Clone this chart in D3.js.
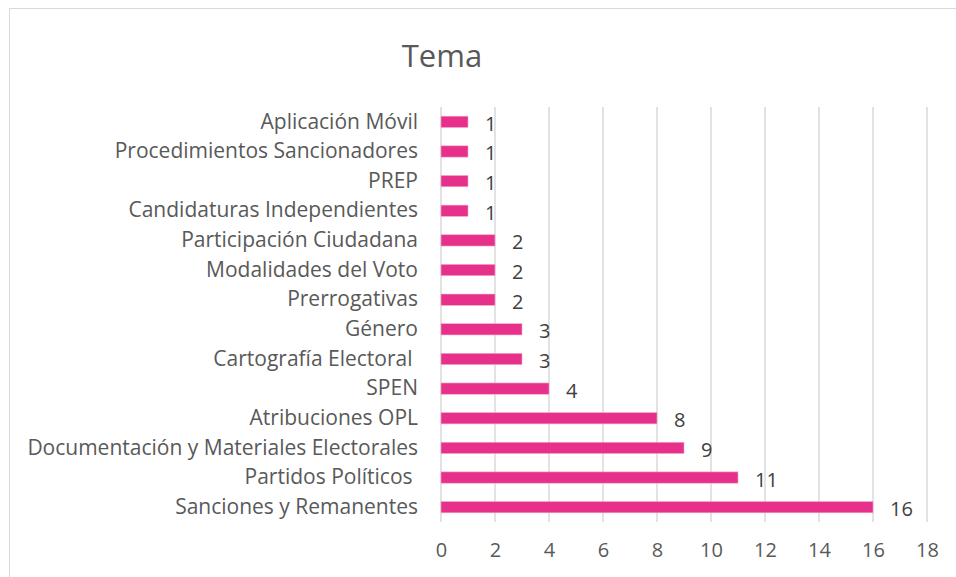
<!DOCTYPE html>
<html>
<head>
<meta charset="utf-8">
<script src="https://cdn.jsdelivr.net/npm/d3@7"></script>
<style>
  body { margin: 0; background: #fff; }
  text { font-family: "Open Sans", sans-serif; white-space: pre; }
</style>
</head>
<body>
<div id="chart"></div>
<script>
// Chart data
const temas = [
    "Aplicación Móvil",
    "Procedimientos Sancionadores",
    "PREP",
    "Candidaturas Independientes",
    "Participación Ciudadana",
    "Modalidades del Voto",
    "Prerrogativas",
    "Género",
    "Cartografía Electoral ",
    "SPEN",
    "Atribuciones OPL",
    "Documentación y Materiales Electorales",
    "Partidos Políticos ",
    "Sanciones y Remanentes"
];
const cantidades = [1, 1, 1, 1, 2, 2, 2, 3, 3, 4, 8, 9, 11, 16];
const xTicks = [0, 2, 4, 6, 8, 10, 12, 14, 16, 18];
const titulo = "Tema";

// SVG dimensions
const w = 956;
const h = 577;
const plotLeft = 441;
const plotRight = 927;
const plotTop = 107;
const plotBottom = 522;

const svg = d3.select("#chart")
    .append("svg")
    .attr("width", w)
    .attr("height", h);

// Chart border
svg.append("rect")
    .attr("x", 9.5)
    .attr("y", 8.5)
    .attr("width", 960)
    .attr("height", 580)
    .attr("fill", "none")
    .attr("stroke", "#d9d9d9")
    .attr("stroke-width", 1);

// Scales
const xScale = d3.scaleLinear()
    .domain([0, 18])
    .range([plotLeft, plotRight]);

const yScale = d3.scaleBand()
    .domain(temas)
    .range([plotTop, plotBottom])
    .paddingInner(0.62)
    .paddingOuter(0.31);

// Gridlines
svg.selectAll("line.grid")
    .data(xTicks)
    .enter()
    .append("line")
    .attr("class", "grid")
    .attr("x1", d => xScale(d))
    .attr("x2", d => xScale(d))
    .attr("y1", plotTop)
    .attr("y2", plotBottom)
    .attr("stroke", "#d9d9d9")
    .attr("stroke-width", 1.5);

// X axis labels
const xAxis = d3.axisBottom(xScale)
    .tickValues(xTicks)
    .tickSize(0)
    .tickPadding(21);

const gx = svg.append("g")
    .attr("transform", "translate(0," + plotBottom + ")")
    .call(xAxis);
gx.select(".domain").remove();
gx.selectAll("text")
    .style("font-family", "\"Open Sans\", sans-serif")
    .style("font-size", "20px")
    .attr("fill", "#595959");

// Y axis labels
const yAxis = d3.axisLeft(yScale)
    .tickSize(0)
    .tickPadding(23);

const gy = svg.append("g")
    .attr("transform", "translate(" + plotLeft + ",0)")
    .call(yAxis);
gy.select(".domain").remove();
gy.selectAll("text")
    .style("font-family", "\"Open Sans\", sans-serif")
    .style("font-size", "21px")
    .attr("fill", "#595959");

// Bars
svg.selectAll("rect.bar")
    .data(temas)
    .enter()
    .append("rect")
    .attr("class", "bar")
    .attr("x", xScale(0))
    .attr("y", d => yScale(d))
    .attr("width", (d, i) => xScale(cantidades[i]) - xScale(0))
    .attr("height", yScale.bandwidth())
    .attr("fill", "#e6308a")
    .attr("stroke", "#f3a6cb")
    .attr("stroke-width", 0.6);

// Value labels
svg.selectAll("text.valor")
    .data(temas)
    .enter()
    .append("text")
    .attr("class", "valor")
    .attr("x", (d, i) => xScale(cantidades[i]) + 17)
    .attr("y", d => yScale(d) + yScale.bandwidth() / 2 + 2)
    .attr("dy", "0.35em")
    .style("font-size", "20px")
    .attr("fill", "#404040")
    .text((d, i) => cantidades[i]);

// Title
svg.append("text")
    .attr("x", 442)
    .attr("y", 67)
    .attr("text-anchor", "middle")
    .style("font-size", "31px")
    .attr("fill", "#595959")
    .text(titulo);
</script>
</body>
</html>
